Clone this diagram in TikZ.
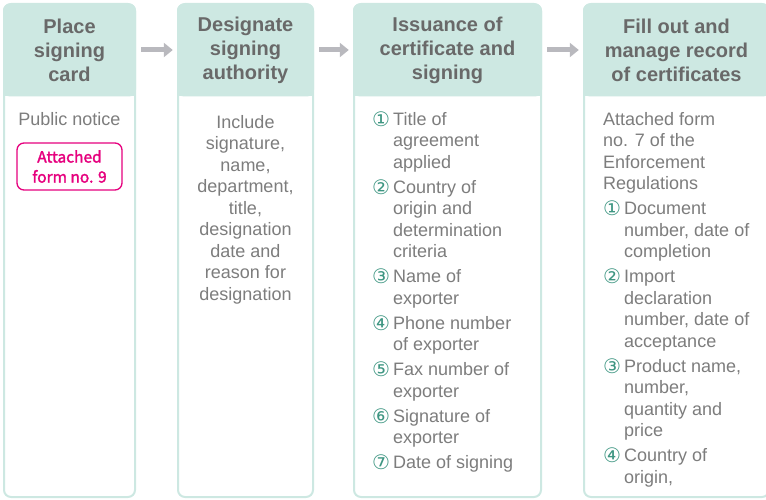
\documentclass[tikz,border=0pt]{standalone}
\usepackage{fontspec}
\setmainfont{Liberation Sans}
\newfontfamily\circfont{DejaVu Sans}
\newfontfamily\formfont{Noto Sans CJK KR}[FakeBold=2]
\usetikzlibrary{arrows.meta, positioning}

\definecolor{headcol}{RGB}{205,232,226}
\definecolor{titlegray}{RGB}{105,105,105}
\definecolor{textgray}{RGB}{125,125,125}
\definecolor{numteal}{RGB}{62,150,130}
\definecolor{formpink}{RGB}{230,0,126}
\definecolor{arrowgray}{RGB}{185,185,190}

\newcommand\cnum[1]{\makebox[21pt][l]{\smash{\raisebox{-1pt}{\circfont\fontsize{20}{21.5}\selectfont\color{numteal}#1}}}}
\newcommand\ind{\hspace*{21pt}}

\begin{document}
\begin{tikzpicture}[x=1pt, y=-1pt,
	stepbox/.style={draw=headcol, line width=2pt, fill=white, rounded corners=7pt},
	headbox/.style={fill=headcol, rounded corners=7pt, text=titlegray, align=center,
		font=\fontsize{20}{24}\selectfont\bfseries, inner sep=0pt, minimum height=93pt},
	bodytext/.style={text=textgray, font=\fontsize{18}{21.5}\selectfont, inner sep=0pt},
	formbox/.style={draw=formpink, line width=1.3pt, rounded corners=7pt, text=formpink,
		align=center, font=\formfont\fontsize{15.5}{20}\selectfont, minimum width=105pt, minimum height=47pt},
	flow/.style={draw=arrowgray, line width=5pt, -{Triangle[length=9pt,width=14pt]},
		shorten <=5pt, shorten >=4pt}]
	\clip (0,0) rectangle (766,500);

	% step frames
	\draw[stepbox] (4,4) rectangle (135,497);
	\draw[stepbox] (178,4) rectangle (313,497);
	\draw[stepbox] (354,4) rectangle (541,497);
	\draw[stepbox] (584,4) rectangle (769,497);

	% square off the lower header corners
	\fill[headcol] (3,80) rectangle (136,96);
	\fill[headcol] (177,80) rectangle (314,96);
	\fill[headcol] (353,80) rectangle (542,96);
	\fill[headcol] (583,80) rectangle (770,96);

	% headers
	\node[headbox, minimum width=133pt] (head1) at (69.5,50) {Place\\signing\\card};
	\node[headbox, minimum width=137pt] (head2) at (245.5,50) {Designate\\signing\\authority};
	\node[headbox, minimum width=189pt] (head3) at (447.5,50) {Issuance of\\certificate and\\signing};
	\node[headbox, minimum width=187pt] (head4) at (676.5,50) {Fill out and\\manage record\\of certificates};

	\draw[flow] (head1) -- (head2);
	\draw[flow] (head2) -- (head3);
	\draw[flow] (head3) -- (head4);

	% bodies
	\node[bodytext, anchor=north] (body1) at (69.5,112) {Public notice};
	\node[formbox] (form9) at (69.5,166.5) {Attached\\form no. 9};

	\node[bodytext, anchor=north, align=center] (body2) at (245.5,115) {Include\\signature,\\name,\\department,\\title,\\designation\\date and\\reason for\\designation};

	\node[bodytext, anchor=north west, align=left] (body3) at (372,112) {%
		\cnum{①}Title of\\\ind agreement\\\ind applied\\[3.5pt]
		\cnum{②}Country of\\\ind origin and\\\ind determination\\\ind criteria\\[3.5pt]
		\cnum{③}Name of\\\ind exporter\\[3.5pt]
		\cnum{④}Phone number\\\ind of exporter\\[3.5pt]
		\cnum{⑤}Fax number of\\\ind exporter\\[3.5pt]
		\cnum{⑥}Signature of\\\ind exporter\\[3.5pt]
		\cnum{⑦}Date of signing};

	\node[bodytext, anchor=north west, align=left] (body4) at (603,112) {%
		Attached form\\no. 7 of the\\Enforcement\\Regulations\\[3.5pt]
		\cnum{①}Document\\\ind number, date of\\\ind completion\\[3.5pt]
		\cnum{②}Import\\\ind declaration\\\ind number, date of\\\ind acceptance\\[3.5pt]
		\cnum{③}Product name,\\\ind number,\\\ind quantity and\\\ind price\\[3.5pt]
		\cnum{④}Country of\\\ind origin,};
\end{tikzpicture}
\end{document}
